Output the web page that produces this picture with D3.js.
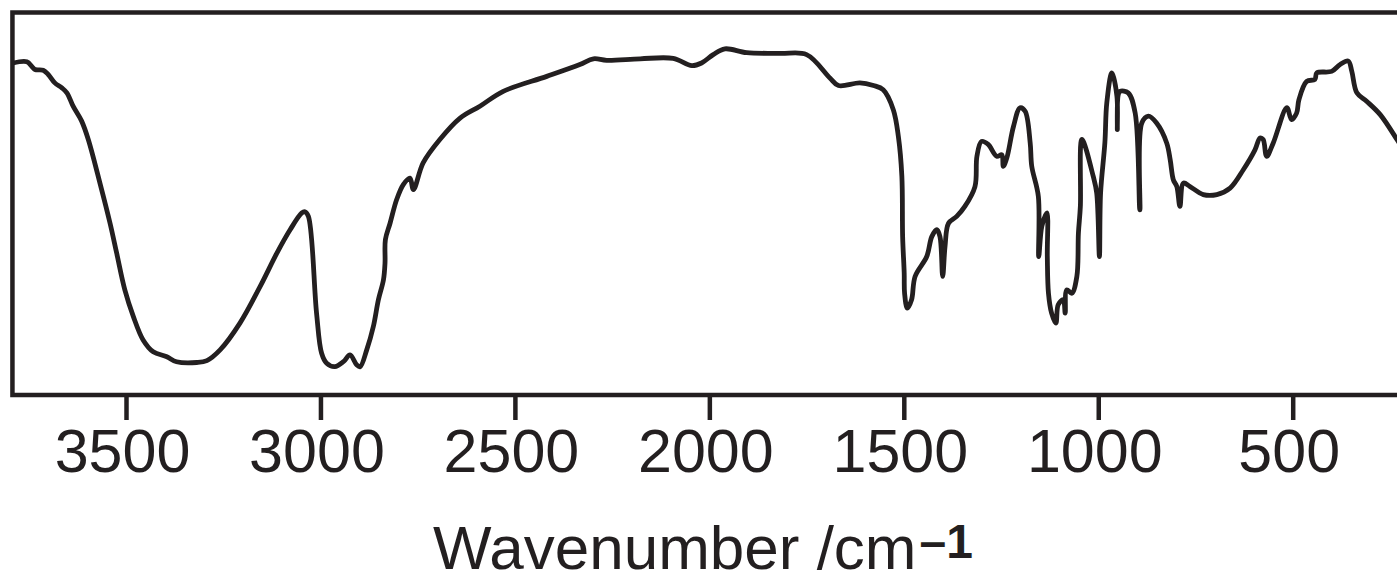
<!DOCTYPE html>
<html>
<head>
<meta charset="utf-8">
<script src="https://cdn.jsdelivr.net/npm/d3@7"></script>
<style>
  html, body { margin: 0; padding: 0; background: #fff; }
  svg { display: block; }
  text { font-family: "Liberation Sans", Arial, Helvetica, sans-serif; fill: #231f20; }
</style>
</head>
<body>
<div id="chart"></div>
<script>
// IR spectrum: wavenumber (cm-1) and transmittance (%)
var wavenumber = [3790, 3755, 3742, 3734, 3713, 3700, 3683, 3665, 3652, 3636,
  3614, 3597, 3567, 3541, 3524, 3503, 3481, 3456, 3430, 3395,
  3370, 3318, 3292, 3258, 3207, 3155, 3112, 3078, 3048, 3040,
  3031, 3010, 2997, 2984, 2963, 2941, 2924, 2907, 2898, 2881,
  2864, 2851, 2838, 2834, 2833, 2821, 2804, 2787, 2770, 2761,
  2736, 2693, 2641, 2590, 2530, 2418, 2333, 2298, 2264, 2178,
  2093, 2045, 2020, 1990, 1960, 1904, 1818, 1750, 1690, 1668,
  1613, 1578, 1553, 1527, 1514, 1505, 1503, 1499, 1498, 1491,
  1480, 1471, 1441, 1428, 1415, 1407, 1400, 1394, 1385, 1364,
  1343, 1317, 1312, 1300, 1283, 1261, 1248, 1244, 1235, 1218,
  1201, 1188, 1175, 1171, 1154, 1153, 1145, 1132, 1131, 1128,
  1120, 1109, 1103, 1090, 1085, 1081, 1068, 1055, 1051, 1046,
  1042, 1013, 1004, 997, 994, 983, 978, 965, 952, 951,
  949, 944, 923, 905, 893, 888, 871, 850, 824, 815,
  807, 798, 790, 781, 764, 730, 695, 661, 627, 597,
  584, 576, 567, 550, 515, 503, 490, 484, 464, 443,
  438, 400, 378, 357, 348, 335, 310, 275, 232, 219];
var transmittance = [86.8, 87.1, 85.9, 85.1, 84.9, 83.8, 81.6, 80.3, 79.0, 75.5,
  71.6, 66.8, 55.4, 44.9, 37.1, 27.5, 20.5, 14.4, 11.3, 10.0,
  8.7, 8.5, 9.0, 11.8, 18.8, 28.4, 37.1, 43.2, 47.6, 47.9,
  46.7, 21.4, 10.9, 8.3, 7.4, 8.7, 10.5, 7.9, 7.4, 11.8,
  17.9, 24.9, 30.1, 34.5, 40.6, 44.9, 51.1, 55.0, 56.7, 53.7,
  60.7, 66.8, 72.4, 75.5, 79.4, 83.3, 86.4, 87.9, 87.5, 87.9,
  88.0, 86.1, 86.8, 89.0, 90.5, 89.5, 89.3, 89.0, 82.9, 80.9,
  81.6, 80.9, 79.8, 74.6, 67.6, 57.2, 41.4, 31.9, 26.6, 22.7,
  24.9, 31.0, 36.2, 41.4, 43.2, 41.4, 31.0, 38.8, 44.9, 46.7,
  49.3, 54.5, 62.4, 66.3, 65.5, 62.4, 62.8, 59.8, 62.0, 70.2,
  75.1, 74.2, 65.9, 59.8, 51.9, 36.2, 44.1, 47.6, 36.2, 26.6,
  21.4, 18.8, 23.6, 24.9, 21.4, 27.5, 26.6, 31.0, 42.3, 49.3,
  66.8, 57.2, 52.8, 36.2, 52.8, 65.9, 76.4, 84.2, 78.1, 69.4,
  78.3, 79.4, 79.0, 73.7, 48.4, 71.1, 72.9, 71.1, 65.9, 61.5,
  56.3, 54.5, 49.3, 55.4, 54.5, 52.4, 52.4, 54.1, 58.9, 64.1,
  67.2, 66.8, 62.4, 65.9, 75.1, 72.0, 73.7, 77.2, 82.0, 82.5,
  84.2, 84.6, 86.4, 87.3, 84.6, 79.0, 76.8, 73.3, 66.8, 64.7];
var tickValues = [3500, 3000, 2500, 2000, 1500, 1000, 500];
var axisTitle = "Wavenumber /cm";
var axisTitleSup = "\u20131";

var W = 1397, H = 581;
var ink = "#231f20";
var plotTop = 12.5, plotBottom = 395;

var svg = d3.select("#chart").append("svg")
  .attr("width", W).attr("height", H);

// x: wavenumber runs right to left; the right end of the frame falls off the page
var x = d3.scaleLinear().domain([3500, 500]).range([126, 1292.7]);
var xLeft = 3792, xRight = 200;
var y = d3.scaleLinear().domain([0, 100]).range([plotBottom, plotTop]);

var data = wavenumber.map(function (w, i) { return [w, transmittance[i]]; });

svg.append("defs").append("clipPath").attr("id", "clip")
  .append("rect")
  .attr("x", x(xLeft)).attr("y", plotTop)
  .attr("width", x(xRight) - x(xLeft)).attr("height", plotBottom - plotTop);

var line = d3.line()
  .x(function (d) { return x(d[0]); })
  .y(function (d) { return y(d[1]); })
  .curve(d3.curveCatmullRom.alpha(0.5));

svg.append("path")
  .datum(data)
  .attr("clip-path", "url(#clip)")
  .attr("d", line)
  .attr("fill", "none")
  .attr("stroke", ink)
  .attr("stroke-width", 4.8)
  .attr("stroke-linejoin", "round")
  .attr("stroke-linecap", "butt");

// frame: top, left, bottom (right side is cut off)
svg.append("path")
  .attr("d", "M" + x(xRight) + "," + plotTop + "H" + x(xLeft) + "V" + plotBottom + "H" + x(xRight))
  .attr("fill", "none")
  .attr("stroke", ink)
  .attr("stroke-width", 4.5)
  .attr("stroke-linejoin", "miter");

// bottom axis
var axis = d3.axisBottom(x)
  .tickValues(tickValues)
  .tickSize(25)
  .tickPadding(9)
  .tickFormat(d3.format("d"));

var gx = svg.append("g")
  .attr("transform", "translate(0," + plotBottom + ")")
  .call(axis);
gx.select(".domain").remove();
gx.selectAll(".tick line").attr("stroke", ink).attr("stroke-width", 4.5);
gx.selectAll(".tick text")
  .attr("fill", ink)
  .attr("font-size", 61)
  .attr("font-family", "'Liberation Sans', Arial, sans-serif")
  .attr("dx", -4);

// axis title with superscript
var title = svg.append("text")
  .attr("x", 433)
  .attr("y", 569)
  .attr("font-size", 62);
title.append("tspan").text(axisTitle);
title.append("tspan")
  .attr("dy", -11)
  .attr("dx", 3)
  .attr("font-size", 48)
  .attr("font-weight", "bold")
  .text(axisTitleSup);
</script>
</body>
</html>
